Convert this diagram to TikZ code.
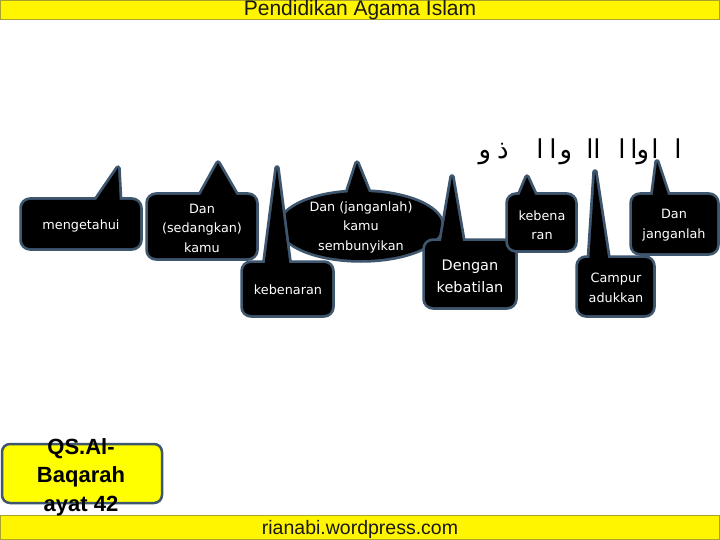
\documentclass[tikz,border=0pt]{standalone}
\usepackage{fontspec}
\usepackage{tikz}
\TeXXeTstate=1
\newfontfamily\bannerfont{Liberation Sans}
\newfontfamily\calloutfont{DejaVu Sans}
\newfontfamily\arabicfont[Script=Arabic]{DejaVu Sans}
\definecolor{bannerfill}{HTML}{FFF500}
\definecolor{bannerline}{HTML}{A9A22A}
\definecolor{edgeslate}{HTML}{3E566E}
\definecolor{notefill}{HTML}{FFFF00}

\begin{document}
\begin{tikzpicture}[
    x=1pt, y=-1pt,
    every node/.style={inner sep=0pt},
    banner/.style={draw=bannerline, line width=1pt, fill=bannerfill},
    bannertext/.style={font=\bannerfont\fontsize{21}{24}\selectfont, text=black!90, anchor=base},
    callout/.style={fill=black, preaction={draw=edgeslate, line width=5.5pt, line join=round}},
    callouttext/.style={font=\calloutfont\fontsize{12.8}{19.5}\selectfont, text=white, align=center},
    arabic/.style={font=\arabicfont\fontsize{26}{28}\selectfont, anchor=base},
]
\useasboundingbox[fill=white] (0,0) rectangle (720,540);

% --- Header and footer strips ---
\draw[banner] (0.5,0.5) rectangle (719.5,20);
\node[bannertext] (title) at (360,15.5) {Pendidikan Agama Islam};
\draw[banner] (0.5,515) rectangle (719.5,539.5);
\node[bannertext, font=\bannerfont\fontsize{19.5}{22}\selectfont] (site) at (360,534) {rianabi.wordpress.com};

% --- Verse, one glyph per position (right to left) ---
\foreach \x/\g [count=\k] in {485/و, 503/ذ, 540/ا, 553/ا, 566/و, 590/ا, 597/ا,
                              622/ا, 634/ا, 643/و, 655/ا, 678/ا}
  \node[arabic] (ar\k) at (\x,159) {\g};

% --- Callouts: box plus pointer up to the verse ---
\path[callout] [rounded corners=8pt] (22,200) rectangle (140,248)
  [sharp corners] (120,206) -- (118,168) -- (92,206) -- cycle;
\path[callout] [rounded corners=8pt] (148,195) rectangle (256,258)
  [sharp corners] (240,201) -- (218,163) -- (197,201) -- cycle;
\path[callout] (361,226) ellipse [x radius=81pt, y radius=34pt]
  (372,200) -- (357,163) -- (345,200) -- cycle;
\path[callout] [rounded corners=8pt] (243,263) rectangle (332,315)
  [sharp corners] (290,269) -- (277,168) -- (264,269) -- cycle;
\path[callout] [rounded corners=8pt] (425,241) rectangle (515,307)
  [sharp corners] (464,247) -- (452,177) -- (440,247) -- cycle;
\path[callout] [rounded corners=8pt] (508,195) rectangle (575,250)
  [sharp corners] (538,201) -- (527,177) -- (517,201) -- cycle;
\path[callout] [rounded corners=8pt] (578,258) rectangle (653,315)
  [sharp corners] (609,264) -- (595,172) -- (589,264) -- cycle;
\path[callout] [rounded corners=8pt] (632,195) rectangle (717,253)
  [sharp corners] (670,201) -- (657,162) -- (652,201) -- cycle;

\node[callouttext] (know) at (81,226) {mengetahui};
\node[callouttext] (you) at (202,228) {Dan\\(sedangkan)\\kamu};
\node[callouttext] (hide) at (361,227) {Dan (janganlah)\\kamu\\sembunyikan};
\node[callouttext] (truth) at (288,290) {kebenaran};
\node[callouttext, font=\calloutfont\fontsize{14.5}{22}\selectfont] (falsehood) at (470,276) {Dengan\\kebatilan};
\node[callouttext] (truthsplit) at (542,225) {kebena\\ran};
\node[callouttext] (mix) at (616,288) {Campur\\adukkan};
\node[callouttext] (dont) at (674,225) {Dan\\janganlah};

% --- Source tag ---
\draw[draw=edgeslate, line width=2.5pt, fill=notefill, rounded corners=8pt]
  (2,444) rectangle (162,503);
\node[font=\bannerfont\bfseries\fontsize{22}{28.5}\selectfont, align=center]
  (surah) at (81,477) {QS.Al-\\Baqarah\\ayat 42};

\end{tikzpicture}
\end{document}
